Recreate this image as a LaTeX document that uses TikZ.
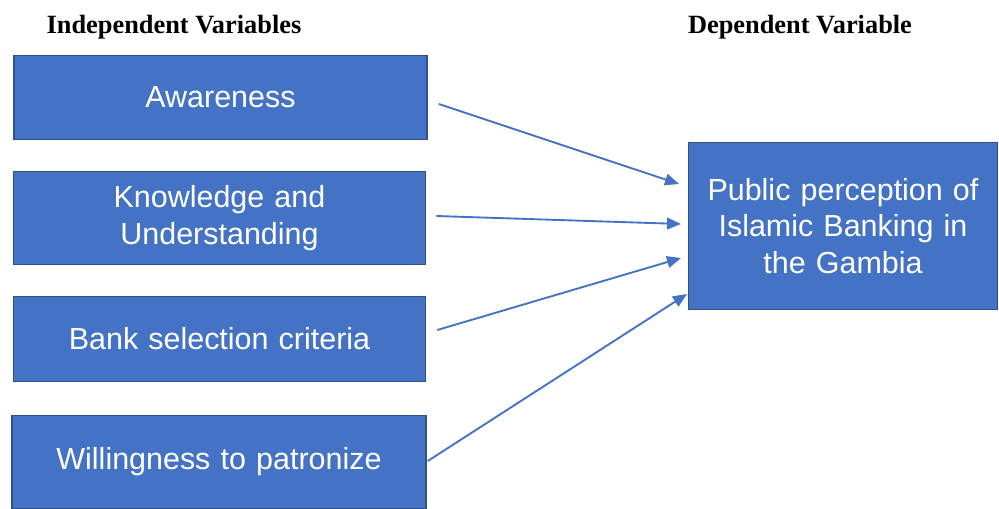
\documentclass[tikz,border=0pt]{standalone}
\usepackage{fontspec}
\setmainfont{Liberation Serif}
\setsansfont{Liberation Sans}
\usetikzlibrary{arrows.meta, positioning}
\definecolor{officeblue}{HTML}{4472C4}
\definecolor{edgeblue}{HTML}{2F528F}

\begin{document}
\begin{tikzpicture}[x=0.03cm, y=-0.03cm,
  ivbox/.style={rectangle, draw=edgeblue, line width=1.1pt, fill=officeblue,
                text=white, align=center, inner sep=0pt,
                font=\sffamily\fontsize{26}{31}\selectfont},
  head/.style={font=\bfseries\fontsize{22.5}{26}\selectfont, inner sep=0pt},
  link/.style={-{Triangle[length=12pt, width=10pt]}, draw=officeblue,
               line width=1.6pt}
]
\useasboundingbox (0,0) rectangle (999,509);

\node[head] (ivhead) at (174,27.5) {Independent Variables};
\node[head] (dvhead) at (800,27.5) {Dependent Variable};

\node[ivbox, minimum width=415*0.85pt, minimum height=85*0.85pt,
      text width=400*0.85pt] (aw) at (220.5,97.5) {Awareness};
\node[ivbox, minimum width=414*0.85pt, minimum height=94*0.85pt,
      text width=400*0.85pt] (kn) at (219.5,218) {Knowledge and\\Understanding};
\node[ivbox, minimum width=414*0.85pt, minimum height=86*0.85pt,
      text width=400*0.85pt] (bs) at (219.5,339) {Bank selection criteria};
\node[ivbox, minimum width=416*0.85pt, minimum height=94*0.85pt,
      text width=400*0.85pt] (wp) at (219,462) {Willingness to patronize};
\node[ivbox, minimum width=310*0.85pt, minimum height=168*0.85pt,
      text width=300*0.85pt] (pp) at (843,226)
      {Public perception of\\Islamic Banking in\\the Gambia};

\draw[link] ([shift={(11,6.5)}]aw.east) -- ([shift={(-9,-42)}]pp.west);
\draw[link] ([shift={(10,-2)}]kn.east) -- ([shift={(-7,-2)}]pp.west);
\draw[link] ([shift={(11,-9)}]bs.east) -- ([shift={(-7,32)}]pp.west);
\draw[link] ([shift={(1,-1)}]wp.east) -- ([shift={(-1,68)}]pp.west);
\end{tikzpicture}
\end{document}
